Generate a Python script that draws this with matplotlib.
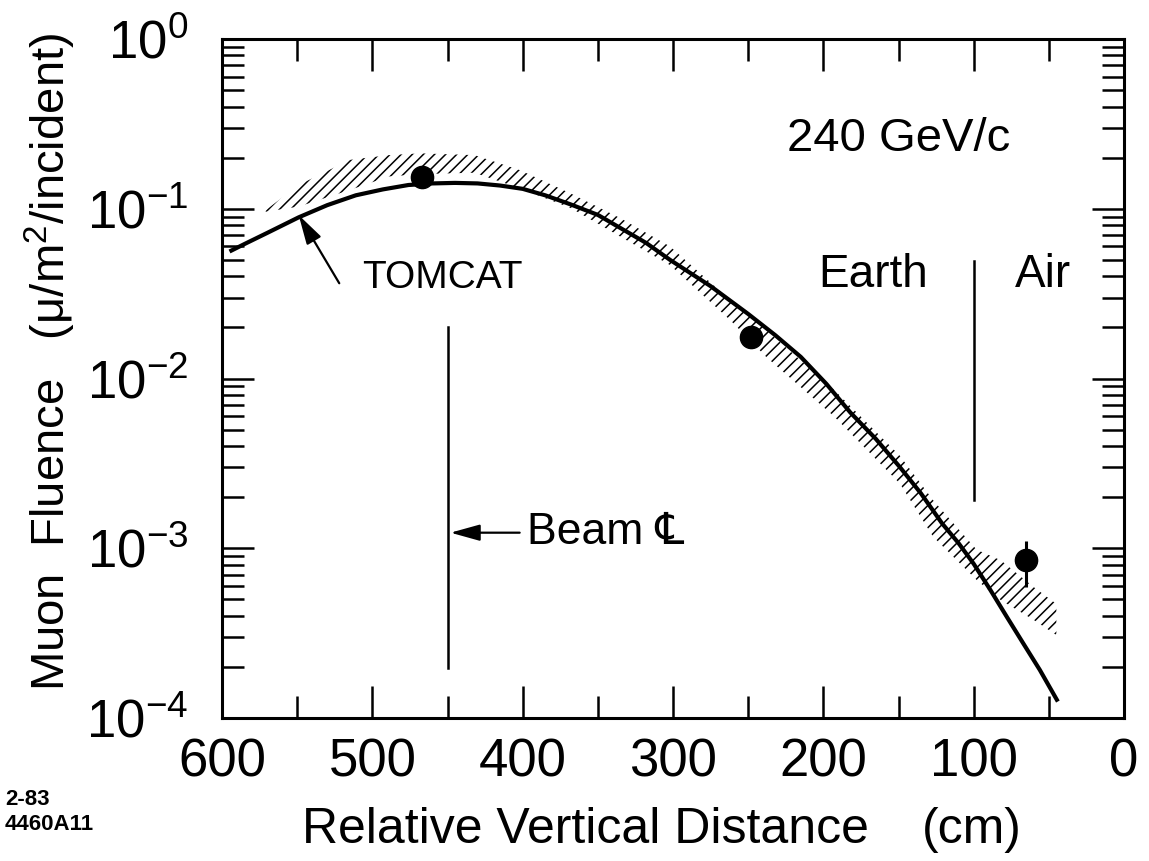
import math

import matplotlib
matplotlib.use("Agg")
import matplotlib.pyplot as plt
from matplotlib.ticker import LogLocator, MultipleLocator, NullFormatter

# TOMCAT calculation: relative vertical distance (cm) vs muon fluence
calc_dist = [595, 585, 570, 549, 530, 511, 493, 476, 460, 445, 430, 415,
             400, 385, 368, 350, 335, 318, 302, 275, 250, 232, 215, 198,
             182, 165, 149, 135, 121, 110, 100, 89, 78, 67, 56, 44]
calc_flu = [0.056, 0.062, 0.072, 0.089, 0.105, 0.120, 0.130, 0.138, 0.141,
            0.142, 0.141, 0.137, 0.131, 0.120, 0.106, 0.092, 0.077, 0.063,
            0.050, 0.035, 0.024, 0.018, 0.0134, 0.0093, 0.0063, 0.0044,
            0.0030, 0.0021, 0.0014, 0.00107, 8.1e-4, 5.7e-4, 3.95e-4,
            2.75e-4, 1.92e-4, 1.25e-4]

# hatched band
band_dist = [571, 549, 515, 489, 468, 432, 402, 368, 335, 302, 262, 238,
             193, 149, 127, 98, 82, 60, 45]
band_lo = [0.096, 0.103, 0.129, 0.155, 0.160, 0.163, 0.132, 0.101, 0.0685,
           0.0466, 0.0221, 0.0134, 0.0060, 0.0024, 0.00117, 6.5e-4, 4.95e-4,
           3.78e-4, 3.08e-4]
band_hi = [0.098, 0.138, 0.194, 0.207, 0.212, 0.207, 0.169, 0.123, 0.088,
           0.060, 0.029, 0.0193, 0.0086, 0.0035, 0.00192, 9.8e-4, 8.5e-4,
           5.9e-4, 4.7e-4]

# measured points
meas_dist = [467, 248, 65]
meas_flu = [0.153, 0.0176, 8.5e-4]
meas_lo = [0.153, 0.0176, 5.9e-4]
meas_hi = [0.153, 0.0176, 1.11e-3]

beam_cl_x = 450
beam_cl_span = (1.96e-4, 0.0202)
boundary_x = 100
boundary_span = (0.00192, 0.0492)

FONT = ['Liberation Sans', 'DejaVu Sans']
plt.rcParams['font.family'] = FONT
plt.rcParams['mathtext.fontset'] = 'custom'
plt.rcParams['mathtext.rm'] = 'Liberation Sans'
plt.rcParams['mathtext.it'] = 'Liberation Sans:italic'
plt.rcParams['mathtext.default'] = 'regular'
plt.rcParams['hatch.linewidth'] = 1.1
plt.rcParams['axes.linewidth'] = 2.2

W, H = 1149, 861
fig = plt.figure(figsize=(W / 100, H / 100), dpi=100)
ax = fig.add_axes([222 / W, 1 - 718 / H, (1124 - 222) / W, (718 - 39) / H])

ax.set_yscale('log')
ax.set_xlim(600, 0)
ax.set_ylim(1e-4, 1)

ax.fill_between(band_dist, band_lo, band_hi, facecolor='none',
                edgecolor='black', hatch='///', linewidth=0, zorder=2)
ax.plot(calc_dist, calc_flu, color='black', lw=3, solid_capstyle='butt',
        solid_joinstyle='round', zorder=3)

yerr = [[f - lo for f, lo in zip(meas_flu, meas_lo)],
        [hi - f for f, hi in zip(meas_flu, meas_hi)]]
ax.errorbar(meas_dist, meas_flu, yerr=yerr, fmt='o', color='black',
            ms=16, elinewidth=2.2, capsize=0, zorder=4)

ax.plot([beam_cl_x, beam_cl_x], beam_cl_span, color='black', lw=1.8)
ax.plot([boundary_x, boundary_x], boundary_span, color='black', lw=1.8)

arrow = dict(arrowstyle='-|>,head_length=0.9,head_width=0.25',
             color='black', lw=1.6, mutation_scale=20, shrinkA=0, shrinkB=0)
ax.text(150, 0.258, '240 GeV/c', fontsize=34, ha='center', va='center')
ax.text(167, 0.0408, 'Earth', fontsize=33, ha='center', va='center')
ax.text(54, 0.0408, 'Air', fontsize=33, ha='center', va='center')
ax.text(507, 0.0389, 'TOMCAT', fontsize=28, ha='left', va='center')
ax.annotate('', xy=(549, 0.0918), xytext=(522, 0.0364), arrowprops=arrow)
ax.text(397, 1.235e-3, 'Beam \u2104', fontsize=32, ha='left', va='center')
ax.annotate('', xy=(448, 1.235e-3), xytext=(402, 1.235e-3), arrowprops=arrow)

ax.xaxis.set_major_locator(MultipleLocator(100))
ax.xaxis.set_minor_locator(MultipleLocator(50))
ax.yaxis.set_major_locator(LogLocator(base=10, numticks=10))
ax.yaxis.set_minor_locator(LogLocator(base=10, subs=range(2, 10), numticks=20))
ax.yaxis.set_minor_formatter(NullFormatter())
ax.xaxis.set_major_formatter(plt.FuncFormatter(lambda v, p: f'{v:.0f}'))
ax.yaxis.set_major_formatter(
    plt.FuncFormatter(lambda v, p: f'10$^{{{int(round(math.log10(v)))}}}$'))

ax.tick_params(which='both', direction='in', top=True, right=True, width=1.8)
ax.tick_params(which='major', length=23)
ax.tick_params(which='minor', length=16)
ax.tick_params(axis='x', which='major', labelsize=38, pad=14)
ax.tick_params(axis='y', which='major', labelsize=38, pad=24)

fig.text(50 / W, 1 - 362 / H, 'Muon  Fluence   (\u03bc/m$^2$/incident)',
         rotation=90, fontsize=34, ha='center', va='center')
fig.text(585 / W, 1 - 830 / H, 'Relative Vertical Distance',
         fontsize=36, ha='center', va='center')
fig.text(972 / W, 1 - 830 / H, '(cm)', fontsize=36, ha='center', va='center')
fig.text(5 / W, 1 - 812 / H, '2-83\n4460A11', fontsize=16, weight='bold',
         ha='left', va='center', linespacing=1.25)

fig.savefig('out.png', dpi=100)
